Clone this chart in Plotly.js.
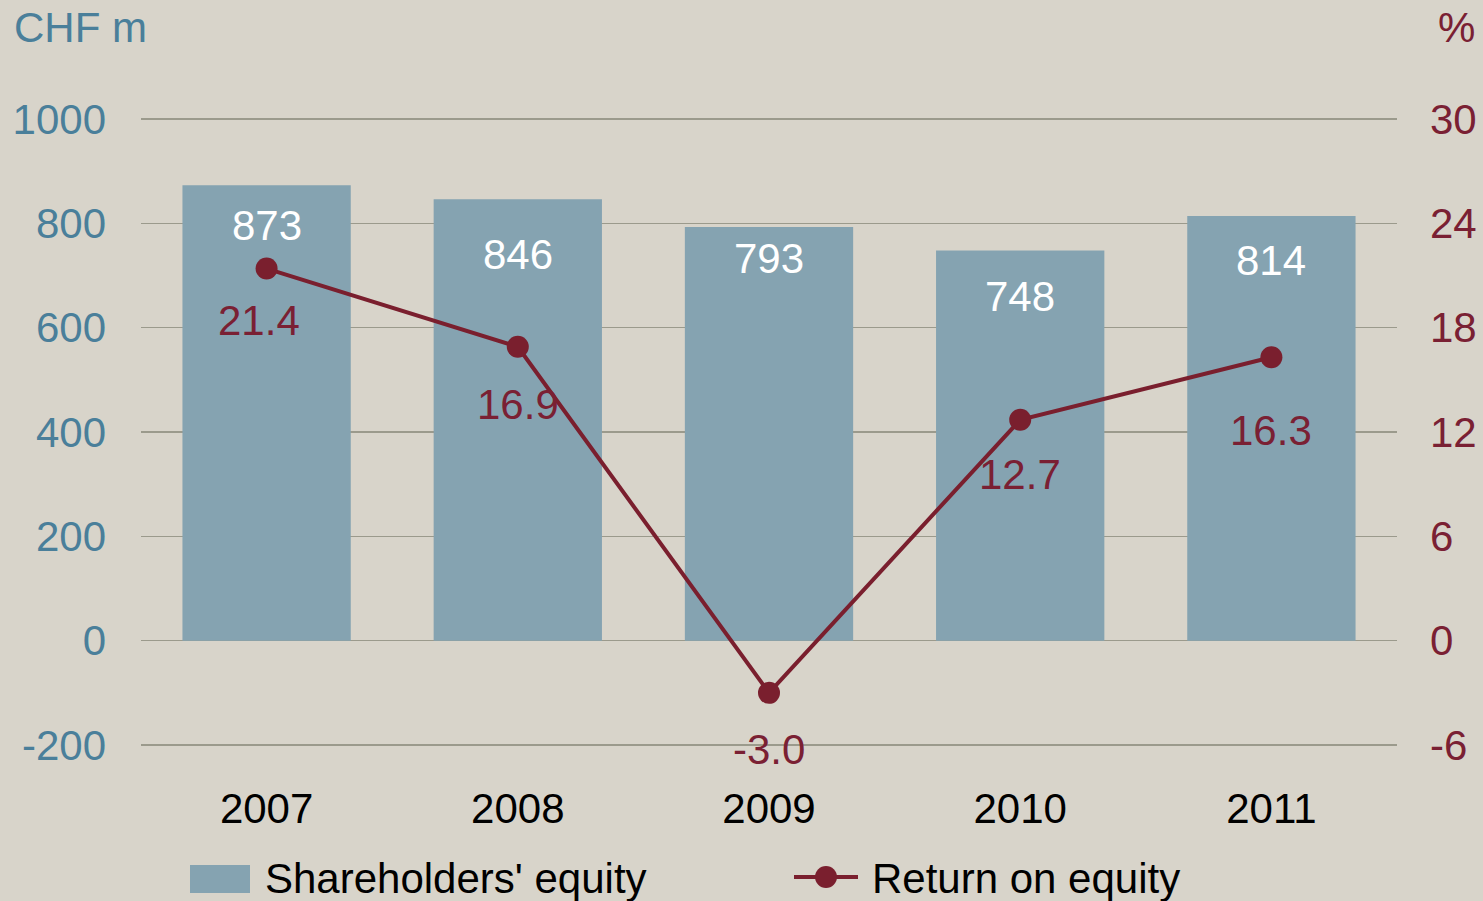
<!DOCTYPE html>
<html>
<head>
<meta charset="utf-8">
<script src="https://cdn.plot.ly/plotly-3.0.1.min.js"></script>
<style>html,body{margin:0;padding:0;background:#d8d4ca;}#chart{width:1483px;height:901px;}</style>
</head>
<body>
<div id="chart"></div>
<script>
// Data
const years = ['2007', '2008', '2009', '2010', '2011'];
const equity = [873, 846, 793, 748, 814];
const roe = [21.4, 16.9, -3.0, 12.7, 16.3];
const equityLabels = ['873', '846', '793', '748', '814'];
const roeLabels = ['21.4', '16.9', '-3.0', '12.7', '16.3'];
const leftTicks = [-200, 0, 200, 400, 600, 800, 1000];
const rightTicks = [-6, 0, 6, 12, 18, 24, 30];

// Styles
const BG = '#d8d4ca';
const BAR = '#85a3b1';
const LINE = '#7a1f2e';
const LEFTC = '#4a7f9a';
const RIGHTC = '#7a2033';
const GRID = '#9b9a8c';
const FONT = 'Liberation Sans, Arial, sans-serif';
const FS = 42;

const barShift = [-40, -55, -32, -46, -44];
const roeShift = [-52, -58, -57, -55, -73];
const roeXShift = [-8, 0, 0, 0, 0];

const traces = [
  {
    type: 'bar', x: years, y: equity, name: "Shareholders' equity",
    marker: {color: BAR}, width: 0.67, hoverinfo: 'skip'
  },
  {
    type: 'scatter', mode: 'lines+markers', x: years, y: roe, yaxis: 'y2',
    name: 'Return on equity', line: {color: LINE, width: 4},
    marker: {color: LINE, size: 22}, hoverinfo: 'skip'
  }
];

// paper helpers (plot area: x 141..1397, y 117..747)
const PL = 141, PW = 1256, PB = 747, PH = 630;
const px = v => (v - PL) / PW;
const py = v => (PB - v) / PH;

const annotations = [];
years.forEach((yr, i) => {
  annotations.push({
    x: i, y: equity[i], xref: 'x', yref: 'y', text: equityLabels[i],
    showarrow: false, yshift: barShift[i], yanchor: 'middle',
    font: {family: FONT, size: FS, color: '#ffffff'}
  });
  annotations.push({
    x: i, y: roe[i], xref: 'x', yref: 'y2', text: roeLabels[i],
    showarrow: false, yshift: roeShift[i], xshift: roeXShift[i], yanchor: 'middle',
    font: {family: FONT, size: FS, color: RIGHTC}
  });
});
annotations.push({
  xref: 'paper', yref: 'paper', x: px(12), y: py(27), xanchor: 'left', yanchor: 'middle',
  text: 'CHF m', showarrow: false, font: {family: FONT, size: FS, color: LEFTC}
});
annotations.push({
  xref: 'paper', yref: 'paper', x: px(1477), y: py(27), xanchor: 'right', yanchor: 'middle',
  text: '%', showarrow: false, font: {family: FONT, size: FS, color: RIGHTC}
});
annotations.push({
  xref: 'paper', yref: 'paper', x: px(263), y: py(878), xanchor: 'left', yanchor: 'middle',
  text: "Shareholders' equity", showarrow: false, font: {family: FONT, size: FS, color: '#000000'}
});
annotations.push({
  xref: 'paper', yref: 'paper', x: px(870), y: py(878), xanchor: 'left', yanchor: 'middle',
  text: 'Return on equity', showarrow: false, font: {family: FONT, size: FS, color: '#000000'}
});

const shapes = [
  {type: 'rect', xref: 'paper', yref: 'paper', x0: px(190), x1: px(250), y0: py(893), y1: py(865),
   fillcolor: BAR, line: {width: 0}},
  {type: 'line', xref: 'paper', yref: 'paper', x0: px(794), x1: px(858), y0: py(877), y1: py(877),
   line: {color: LINE, width: 4}},
  {type: 'circle', xref: 'paper', yref: 'paper', x0: px(815), x1: px(837),
   y0: py(888), y1: py(866), fillcolor: LINE, line: {width: 0}}
];

const layout = {
  width: 1483, height: 901,
  paper_bgcolor: BG, plot_bgcolor: BG,
  margin: {l: 141, r: 86, t: 117, b: 154},
  showlegend: false,
  font: {family: FONT, size: FS},
  xaxis: {
    type: 'category', range: [-0.5, 4.5], showgrid: false, zeroline: false, showline: false,
    ticks: '', tickfont: {family: FONT, size: FS, color: '#000000'}, ticklabelstandoff: 33,
    fixedrange: true
  },
  yaxis: {
    range: [-203.8, 1003.8], tickvals: leftTicks, ticktext: leftTicks.map(String),
    showgrid: true, gridcolor: GRID, gridwidth: 1.5, zeroline: false, showline: false, ticks: '',
    tickfont: {family: FONT, size: FS, color: LEFTC}, ticklabelstandoff: 34, fixedrange: true
  },
  yaxis2: {
    overlaying: 'y', side: 'right', range: [-6.114, 30.114], tickvals: rightTicks,
    ticktext: rightTicks.map(String), showgrid: false, zeroline: false, showline: false, ticks: '',
    tickfont: {family: FONT, size: FS, color: RIGHTC}, ticklabelstandoff: 32, fixedrange: true
  },
  annotations: annotations,
  shapes: shapes
};

Plotly.newPlot('chart', traces, layout, {displayModeBar: false, staticPlot: true});
</script>
</body>
</html>
